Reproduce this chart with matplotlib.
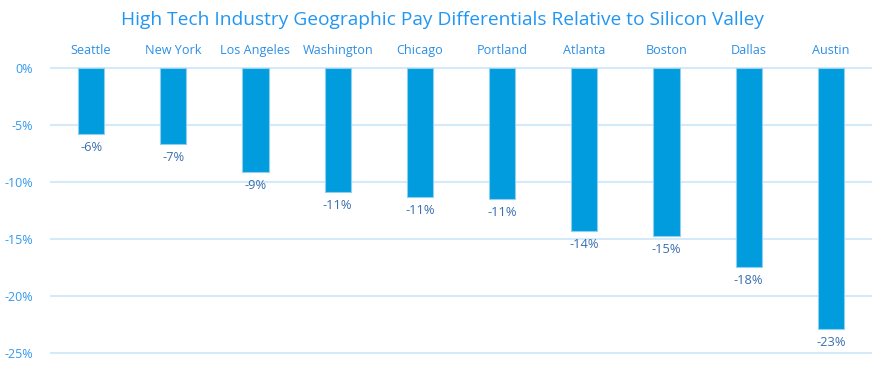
import matplotlib
matplotlib.use("Agg")
import matplotlib.pyplot as plt

cities = ["Seattle", "New York", "Los Angeles", "Washington", "Chicago",
          "Portland", "Atlanta", "Boston", "Dallas", "Austin"]
differentials = [-5.8, -6.7, -9.1, -10.9, -11.3, -11.5, -14.3, -14.7, -17.5, -22.9]
value_labels = ["-6%", "-7%", "-9%", "-11%", "-11%", "-11%", "-14%", "-15%", "-18%", "-23%"]
y_ticks = [0, -5, -10, -15, -20, -25]
y_tick_labels = ["0%", "-5%", "-10%", "-15%", "-20%", "-25%"]
title = "High Tech Industry Geographic Pay Differentials Relative to Silicon Valley"

plt.rcParams['font.family'] = ['Open Sans', 'DejaVu Sans']

W, H = 885, 367
fig = plt.figure(figsize=(W / 100, H / 100), dpi=100)
ax = fig.add_axes([50 / W, 1 - 356.4 / H, (872 - 50) / W, (356.4 - 65.7) / H])

x = list(range(len(cities)))
ax.bar(x, differentials, width=0.32, color="#009CDE", edgecolor="#8FD0F0",
       linewidth=0.8, zorder=3)

for xi, v, lab in zip(x, differentials, value_labels):
    ax.annotate(lab, (xi, v), xytext=(0, -5), textcoords="offset points",
                ha="center", va="top", fontsize=9.3, color="#3A6FB0")

ax.set_xlim(-0.5, len(cities) - 0.5)
ax.set_ylim(-25.3, 0.2)
ax.set_yticks(y_ticks)
ax.set_yticklabels(y_tick_labels)
ax.set_xticks(x)
ax.set_xticklabels(cities)
ax.xaxis.tick_top()
ax.tick_params(axis="x", length=0, pad=6, labelsize=9.1, labelcolor="#2B8FE8")
ax.tick_params(axis="y", length=0, pad=12, labelsize=9, labelcolor="#3399EE")
for lab in ax.get_yticklabels():
    lab.set_horizontalalignment("right")

for yv in y_ticks:
    ax.axhline(yv, color="#D4EAFA", linewidth=1.5, zorder=1)

for s in ax.spines.values():
    s.set_visible(False)

fig.text(0.5, 1 - 20 / H, title, ha="center", va="center", fontsize=13.8,
         color="#2196F3")

fig.savefig("out.png", dpi=100)
